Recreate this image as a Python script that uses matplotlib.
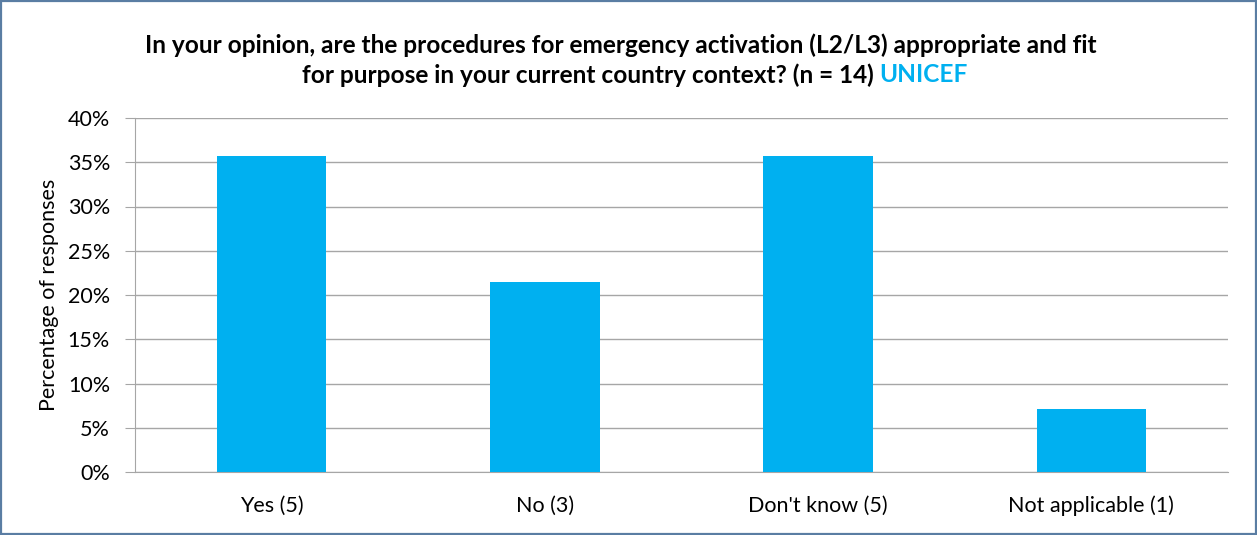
import matplotlib
matplotlib.use("Agg")
import matplotlib.pyplot as plt
from matplotlib.patches import Rectangle
from matplotlib.ticker import PercentFormatter

categories = ["Yes (5)", "No (3)", "Don't know (5)", "Not applicable (1)"]
counts = [5, 3, 5, 1]
n_total = 14
shares = [c / n_total for c in counts]
y_ticks = [0, 0.05, 0.10, 0.15, 0.20, 0.25, 0.30, 0.35, 0.40]

title_line1 = "In your opinion, are the procedures for emergency activation (L2/L3) appropriate and fit"
title_line2 = "for purpose in your current country context? (n = 14) "
title_tag = "UNICEF"

BAR = "#00B0F0"
GRID = "#A6A6A6"
FRAME = "#5A7DA3"

plt.rcParams["font.family"] = ["Lato", "DejaVu Sans"]

W, H, DPI = 1257, 535, 100
fig = plt.figure(figsize=(W / DPI, H / DPI), dpi=DPI)
fig.patch.set_facecolor("white")

ax = fig.add_axes([135 / W, 1 - 472 / H, (1228 - 135) / W, (472 - 118) / H])
x = list(range(len(categories)))
ax.bar(x, shares, width=0.4, color=BAR, zorder=3)
ax.set_xlim(-0.5, len(categories) - 0.5)
ax.set_ylim(0, 0.40)
ax.set_yticks(y_ticks)
ax.yaxis.set_major_formatter(PercentFormatter(1.0, decimals=0))
ax.set_xticks(x)
ax.set_xticklabels(categories, fontsize=15.5)
ax.tick_params(axis="y", labelsize=15.5, length=7, color=GRID, pad=11)
ax.tick_params(axis="x", length=0, pad=17)
ax.grid(axis="y", color=GRID, linewidth=1, zorder=0)
for side in ("top", "right"):
    ax.spines[side].set_visible(False)
ax.spines["left"].set_color(GRID)
ax.spines["bottom"].set_color(GRID)
ax.set_ylabel("Percentage of responses", fontsize=15.5, labelpad=6)

# Title: first line centred, second line mixes black text and the coloured tag
TITLE_SIZE = 17.6
fig.text(621 / W, 1 - 45 / H, title_line1, ha="center", va="center",
         fontsize=TITLE_SIZE, fontweight="bold", color="black")
t_main = fig.text(0, 1 - 75 / H, title_line2, ha="left", va="center",
                  fontsize=TITLE_SIZE, fontweight="bold", color="black")
t_tag = fig.text(0, 1 - 75 / H, title_tag, ha="left", va="center",
                 fontsize=TITLE_SIZE, fontweight="bold", color=BAR)
fig.canvas.draw()
r = fig.canvas.get_renderer()
w_main = t_main.get_window_extent(r).width
w_tag = t_tag.get_window_extent(r).width
start = 635 - (w_main + w_tag) / 2
t_main.set_x(start / W)
t_tag.set_x((start + w_main) / W)

fig.patches.append(Rectangle((1 / W, 1 / H), (W - 2) / W, (H - 2) / H,
                             transform=fig.transFigure, fill=False,
                             edgecolor=FRAME, linewidth=1.6))

fig.savefig("out.png", dpi=DPI)
